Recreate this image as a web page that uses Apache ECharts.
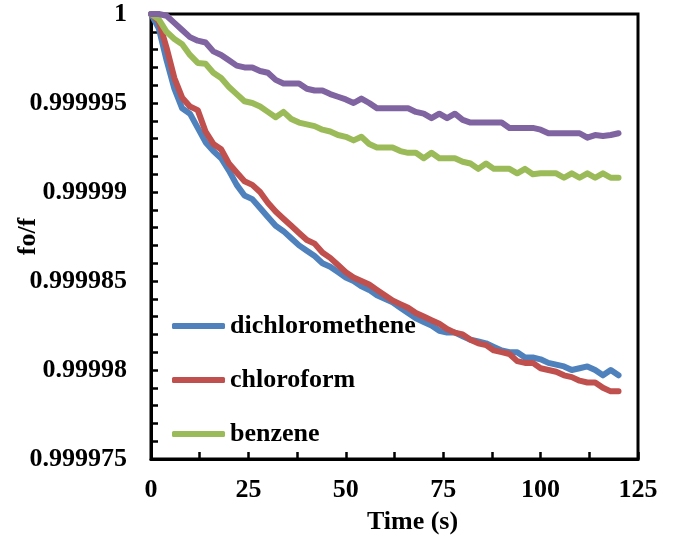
<!DOCTYPE html>
<html>
<head>
<meta charset="utf-8">
<script src="https://cdn.jsdelivr.net/npm/echarts@6/dist/echarts.min.js"></script>
<style>
  html, body { margin: 0; padding: 0; background: #fff; }
  #chart { width: 678px; height: 541px; }
</style>
</head>
<body>
<div id="chart"></div>
<script>
// time points (s), one reading every 2 s
var times = [];
for (var i = 0; i <= 60; i++) times.push(i * 2);

// fo/f readings
var dichloromethene = [1, 0.9999992, 0.9999974, 0.9999958, 0.9999947, 0.9999944, 0.9999936, 0.9999928, 0.9999923, 0.9999919,
  0.9999912, 0.9999904, 0.9999898, 0.9999896, 0.9999891, 0.9999886, 0.9999881, 0.9999878, 0.9999874, 0.999987,
  0.9999867, 0.9999864, 0.999986, 0.9999858, 0.9999855, 0.9999852, 0.999985, 0.9999847, 0.9999845, 0.9999842,
  0.999984, 0.9999838, 0.9999835, 0.9999832, 0.9999829, 0.9999827, 0.9999825, 0.9999822, 0.9999821, 0.9999821,
  0.9999819, 0.9999817, 0.9999816, 0.9999815, 0.9999813, 0.9999811, 0.999981, 0.999981, 0.9999807, 0.9999807,
  0.9999806, 0.9999804, 0.9999803, 0.9999802, 0.99998, 0.9999801, 0.9999802, 0.99998, 0.9999797, 0.99998, 0.9999797];
var chloroform = [1, 0.9999996, 0.9999981, 0.9999964, 0.9999953, 0.9999948, 0.9999946, 0.9999934, 0.9999927, 0.9999924,
  0.9999916, 0.9999911, 0.9999906, 0.9999904, 0.99999, 0.9999894, 0.9999889, 0.9999885, 0.9999881, 0.9999877,
  0.9999873, 0.9999871, 0.9999866, 0.9999863, 0.9999859, 0.9999855, 0.9999852, 0.999985, 0.9999848, 0.9999845,
  0.9999842, 0.9999839, 0.9999837, 0.9999835, 0.9999832, 0.999983, 0.9999828, 0.9999826, 0.9999823, 0.9999821,
  0.999982, 0.9999817, 0.9999815, 0.9999814, 0.9999811, 0.999981, 0.9999809, 0.9999805, 0.9999804, 0.9999804,
  0.9999801, 0.99998, 0.9999799, 0.9999797, 0.9999796, 0.9999794, 0.9999793, 0.9999793, 0.999979, 0.9999788, 0.9999788];
var benzene = [1, 0.9999997, 0.999999, 0.9999986, 0.9999983, 0.9999977, 0.99999725, 0.9999972, 0.9999967, 0.9999964,
  0.9999959, 0.9999955, 0.9999951, 0.999995, 0.9999948, 0.9999945, 0.9999942, 0.9999945, 0.9999941, 0.9999939,
  0.9999938, 0.9999937, 0.9999935, 0.9999934, 0.9999932, 0.9999931, 0.9999929, 0.9999931, 0.9999927, 0.9999925,
  0.9999925, 0.9999925, 0.9999923, 0.9999922, 0.9999922, 0.9999919, 0.9999922, 0.9999919, 0.9999919, 0.9999919,
  0.9999917, 0.9999916, 0.9999913, 0.9999916, 0.9999913, 0.9999913, 0.9999913, 0.99999105, 0.9999913, 0.999991,
  0.99999105, 0.99999105, 0.99999105, 0.9999908, 0.99999105, 0.9999908, 0.99999105, 0.9999908, 0.99999105, 0.9999908, 0.9999908];
// fourth trace, no legend entry in the original
var series4 = [1, 1, 0.9999999, 0.9999995, 0.9999991, 0.9999987, 0.9999985, 0.9999984, 0.9999979, 0.9999977,
  0.9999974, 0.9999971, 0.999997, 0.999997, 0.9999968, 0.9999967, 0.9999963, 0.9999961, 0.9999961, 0.9999961,
  0.9999958, 0.9999957, 0.9999957, 0.9999955, 0.99999535, 0.9999952, 0.999995, 0.99999525, 0.999995, 0.9999947,
  0.9999947, 0.9999947, 0.9999947, 0.9999947, 0.9999945, 0.9999944, 0.99999415, 0.9999944, 0.99999415, 0.9999944,
  0.99999405, 0.9999939, 0.9999939, 0.9999939, 0.9999939, 0.9999939, 0.9999936, 0.9999936, 0.9999936, 0.9999936,
  0.9999935, 0.9999933, 0.9999933, 0.9999933, 0.9999933, 0.9999933, 0.99999305, 0.9999932, 0.99999315, 0.9999932, 0.9999933];

var legendNames = ['dichloromethene', 'chloroform', 'benzene'];
var colors = ['#4F81BD', '#C0504D', '#9BBB59', '#8064A2'];
var font = "'Liberation Serif', 'Times New Roman', serif";

function pairs(arr) {
  return times.map(function (t, i) { return [t, arr[i]]; });
}
function lineSeries(name, arr, color) {
  return {
    name: name,
    type: 'line',
    symbol: 'none',
    showSymbol: false,
    data: pairs(arr),
    lineStyle: { color: color, width: 6, cap: 'round', join: 'round' },
    itemStyle: { color: color }
  };
}

var chart = echarts.init(document.getElementById('chart'));
var option = {
  animation: false,
  backgroundColor: '#fff',
  textStyle: { fontFamily: font },
  grid: {
    left: 151, right: 40, top: 14, bottom: 82,
    outerBoundsMode: 'none',
    containLabel: false,
    show: true, borderColor: '#000', borderWidth: 3
  },
  legend: {
    data: legendNames,
    orient: 'vertical',
    left: 172,
    top: 313,
    padding: 0,
    icon: 'roundRect',
    itemWidth: 53,
    itemHeight: 6,
    itemGap: 28,
    textStyle: { fontFamily: font, fontWeight: 'bold', fontSize: 26, color: '#000', lineHeight: 26 }
  },
  xAxis: {
    type: 'value',
    min: 0, max: 125, interval: 25,
    name: 'Time (s)',
    nameLocation: 'middle',
    nameGap: 50,
    nameMoveOverlap: false,
    nameTextStyle: { fontFamily: font, fontWeight: 'bold', fontSize: 26, color: '#000', padding: [0, 0, 0, 36] },
    axisLine: { lineStyle: { color: '#000', width: 3 } },
    axisTick: { inside: true, length: 7, lineStyle: { color: '#000', width: 2.5 } },
    minorTick: { show: true, splitNumber: 2, length: 7, lineStyle: { color: '#000', width: 2.5 } },
    splitLine: { show: false },
    axisLabel: { margin: 18, fontFamily: font, fontWeight: 'bold', fontSize: 26, color: '#000' }
  },
  yAxis: {
    type: 'value',
    min: 0.999975, max: 1, interval: 0.000005,
    name: 'fo/f',
    nameLocation: 'middle',
    nameGap: 110,
    nameMoveOverlap: false,
    nameTextStyle: { fontFamily: font, fontWeight: 'bold', fontSize: 26, color: '#000' },
    axisLine: { show: true, lineStyle: { color: '#000', width: 3 } },
    axisTick: { show: true, inside: true, length: 7, lineStyle: { color: '#000', width: 2.5 } },
    minorTick: { show: true, splitNumber: 5, length: 7, lineStyle: { color: '#000', width: 2.5 } },
    splitLine: { show: false },
    axisLabel: {
      margin: 24, fontFamily: font, fontWeight: 'bold', fontSize: 26, color: '#000',
      formatter: function (v) { return String(parseFloat(v.toFixed(6))); }
    }
  },
  series: [
    lineSeries('dichloromethene', dichloromethene, colors[0]),
    lineSeries('chloroform', chloroform, colors[1]),
    lineSeries('benzene', benzene, colors[2]),
    lineSeries('series4', series4, colors[3])
  ]
};
chart.setOption(option);
</script>
</body>
</html>
